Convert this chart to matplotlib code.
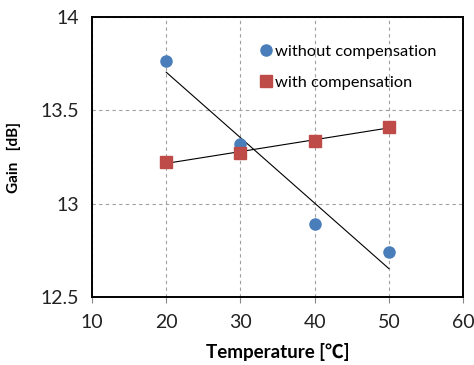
import matplotlib
matplotlib.use("Agg")
import matplotlib.pyplot as plt
import numpy as np

temps = [20, 30, 40, 50]
gain_without = [13.766, 13.32, 12.89, 12.74]
gain_with = [13.225, 13.27, 13.337, 13.414]
x_ticks = [10, 20, 30, 40, 50, 60]
y_ticks = [12.5, 13, 13.5, 14]
y_tick_labels = ["12.5", "13", "13.5", "14"]

plt.rcParams['font.family'] = ['Lato', 'Noto Sans CJK JP', 'DejaVu Sans']

fig = plt.figure(figsize=(4.74, 3.65), dpi=100)
ax = fig.add_axes([0.194, 0.186, 0.783, 0.767])

blue = '#4A7EBB'
red = '#BE4B48'

ax.plot(temps, gain_without, 'o', color=blue, markersize=8, label='without compensation', zorder=3)
ax.plot(temps, gain_with, 's', color=red, markersize=8, label='with compensation', zorder=3)

x = np.array(temps, dtype=float)
for ys in (gain_without, gain_with):
    p = np.polyfit(x, ys, 1)
    ax.plot(x[[0, -1]], np.polyval(p, x[[0, -1]]), color='black', linewidth=0.8, zorder=2)

ax.set_xlim(10, 60)
ax.set_ylim(12.5, 14)
ax.set_xticks(x_ticks)
ax.set_yticks(y_ticks)
ax.set_yticklabels(y_tick_labels)
ax.grid(True, linestyle=(0, (3, 3)), color='#A0A0A0', linewidth=0.8)
ax.tick_params(axis='y', length=0, labelsize=14, pad=9, labelcolor='#222222')
ax.tick_params(axis='x', length=4, width=0.8, color='#888888', labelsize=14, pad=8, labelcolor='#222222')
for s in ax.spines.values():
    s.set_linewidth(1.4)
    s.set_color('black')

ax.set_xlabel('Temperature [\u2103]', fontsize=13.5, fontweight='bold', labelpad=9)
ax.set_ylabel('Gain   [dB]', fontsize=11, fontweight='bold', labelpad=14)

ax.legend(loc='upper left', bbox_to_anchor=(0.415, 0.943), frameon=False, fontsize=11.8,
          handletextpad=0.0, handlelength=1.1, labelspacing=0.98, borderaxespad=0.3)

fig.savefig('out.png', dpi=100)
